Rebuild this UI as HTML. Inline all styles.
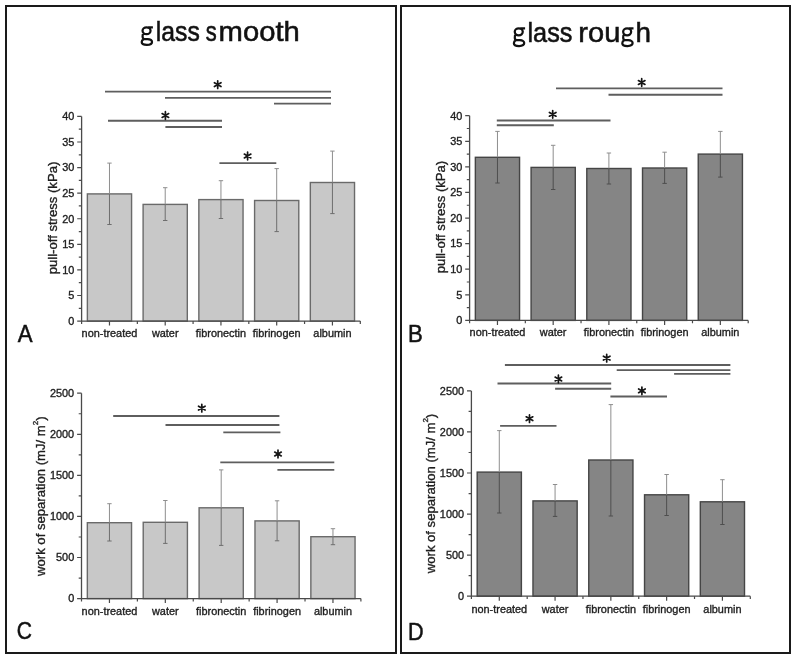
<!DOCTYPE html>
<html><head><meta charset="utf-8"><style>
html,body{margin:0;padding:0;background:#fff;}
svg{display:block;will-change:transform;}
text{font-family:"Liberation Sans", sans-serif;fill:#1e1e1e;}
.ct{stroke:#1e1e1e;stroke-width:0.35px;}
.lt{fill:#111;stroke:#111;stroke-width:0.5px;}
.tt{fill:#111;stroke:#111;stroke-width:0.55px;}
</style></head><body>
<svg width="795" height="660" viewBox="0 0 795 660">
<rect x="0" y="0" width="795" height="660" fill="#fff"/>
<rect x="6" y="6" width="390" height="647" fill="none" stroke="#1a1a1a" stroke-width="2"/>
<rect x="401" y="6" width="389" height="647" fill="none" stroke="#1a1a1a" stroke-width="2"/>
<path d="M142.55,30.75a4.00,3.45 0 1,0 8.00,0a4.00,3.45 0 1,0 -8.00,0ZM148.10,27.35H152.90M143.70,33.30C142.00,34.70 142.10,39.20 144.70,39.00H147.65C150.45,39.00 152.00,40.55 152.00,41.95C152.00,43.85 149.65,44.90 146.85,44.90C144.05,44.90 141.70,43.85 141.70,42.05C141.70,40.75 142.85,39.60 143.70,39.20" fill="none" stroke="#111" stroke-width="2.25" stroke-linecap="butt"/>
<text class="tt" x="155.8" y="40.8" font-size="28" textLength="44" lengthAdjust="spacingAndGlyphs">lass</text>
<text class="tt" x="205.8" y="40.8" font-size="28" textLength="11" lengthAdjust="spacingAndGlyphs">s</text>
<text class="tt" x="218.6" y="40.8" font-size="28" textLength="81.2" lengthAdjust="spacingAndGlyphs">mooth</text>
<path d="M514.75,31.85a4.00,3.45 0 1,0 8.00,0a4.00,3.45 0 1,0 -8.00,0ZM520.30,28.45H525.10M515.90,34.40C514.20,35.80 514.30,40.30 516.90,40.10H519.85C522.65,40.10 524.20,41.65 524.20,43.05C524.20,44.95 521.85,46.00 519.05,46.00C516.25,46.00 513.90,44.95 513.90,43.15C513.90,41.85 515.05,40.70 515.90,40.30" fill="none" stroke="#111" stroke-width="2.25" stroke-linecap="butt"/>
<text class="tt" x="527.5" y="41.9" font-size="28" textLength="45" lengthAdjust="spacingAndGlyphs">lass</text>
<text class="tt" x="578.3" y="41.9" font-size="28" textLength="42" lengthAdjust="spacingAndGlyphs">rou</text>
<path d="M623.15,31.85a4.00,3.45 0 1,0 8.00,0a4.00,3.45 0 1,0 -8.00,0ZM628.70,28.45H633.50M624.30,34.40C622.60,35.80 622.70,40.30 625.30,40.10H628.25C631.05,40.10 632.60,41.65 632.60,43.05C632.60,44.95 630.25,46.00 627.45,46.00C624.65,46.00 622.30,44.95 622.30,43.15C622.30,41.85 623.45,40.70 624.30,40.30" fill="none" stroke="#111" stroke-width="2.25" stroke-linecap="butt"/>
<text class="tt" x="635.5" y="41.9" font-size="28" textLength="15.5" lengthAdjust="spacingAndGlyphs">h</text>
<text class="lt" x="17.8" y="341.5" font-size="23.5" textLength="14.8" lengthAdjust="spacingAndGlyphs">A</text>
<text class="lt" x="408" y="342.3" font-size="23.5" textLength="14.8" lengthAdjust="spacingAndGlyphs">B</text>
<text class="lt" x="16.8" y="639.4" font-size="23.5" textLength="15.2" lengthAdjust="spacingAndGlyphs">C</text>
<text class="lt" x="408" y="640" font-size="23.5" textLength="15.6" lengthAdjust="spacingAndGlyphs">D</text>
<rect x="87.37" y="193.90" width="44.2" height="127.20" fill="#c8c8c8" stroke="#6a6a6a" stroke-width="1.4"/>
<rect x="143.11" y="204.40" width="44.2" height="116.70" fill="#c8c8c8" stroke="#6a6a6a" stroke-width="1.4"/>
<rect x="198.85" y="199.60" width="44.2" height="121.50" fill="#c8c8c8" stroke="#6a6a6a" stroke-width="1.4"/>
<rect x="254.59" y="200.50" width="44.2" height="120.60" fill="#c8c8c8" stroke="#6a6a6a" stroke-width="1.4"/>
<rect x="310.33" y="182.50" width="44.2" height="138.60" fill="#c8c8c8" stroke="#6a6a6a" stroke-width="1.4"/>
<path d="M109.47,163.10V193.90M107.27,163.10H111.67" stroke="#8e8e8e" stroke-width="1" fill="none"/>
<path d="M109.47,193.90V224.50M107.27,224.50H111.67" stroke="#6e6e6e" stroke-width="1" fill="none"/>
<path d="M165.21,187.70V204.40M163.01,187.70H167.41" stroke="#8e8e8e" stroke-width="1" fill="none"/>
<path d="M165.21,204.40V220.50M163.01,220.50H167.41" stroke="#6e6e6e" stroke-width="1" fill="none"/>
<path d="M220.95,180.70V199.60M218.75,180.70H223.15" stroke="#8e8e8e" stroke-width="1" fill="none"/>
<path d="M220.95,199.60V218.50M218.75,218.50H223.15" stroke="#6e6e6e" stroke-width="1" fill="none"/>
<path d="M276.69,168.60V200.50M274.49,168.60H278.89" stroke="#8e8e8e" stroke-width="1" fill="none"/>
<path d="M276.69,200.50V231.60M274.49,231.60H278.89" stroke="#6e6e6e" stroke-width="1" fill="none"/>
<path d="M332.43,151.10V182.50M330.23,151.10H334.63" stroke="#8e8e8e" stroke-width="1" fill="none"/>
<path d="M332.43,182.50V213.60M330.23,213.60H334.63" stroke="#6e6e6e" stroke-width="1" fill="none"/>
<path d="M81.60,116.40V321.10H360.30" stroke="#4a4a4a" stroke-width="1.3" fill="none"/>
<path d="M77.20,321.10H81.60M78.80,308.31H81.60M77.20,295.51H81.60M78.80,282.72H81.60M77.20,269.93H81.60M78.80,257.13H81.60M77.20,244.34H81.60M78.80,231.54H81.60M77.20,218.75H81.60M78.80,205.96H81.60M77.20,193.16H81.60M78.80,180.37H81.60M77.20,167.58H81.60M78.80,154.78H81.60M77.20,141.99H81.60M78.80,129.19H81.60M77.20,116.40H81.60M109.47,321.10V325.60M165.21,321.10V325.60M220.95,321.10V325.60M276.69,321.10V325.60M332.43,321.10V325.60M81.60,321.10V323.90M137.34,321.10V323.90M193.08,321.10V323.90M248.82,321.10V323.90M304.56,321.10V323.90M360.30,321.10V323.90" stroke="#4a4a4a" stroke-width="1.2" fill="none"/>
<text class="ct" x="74.30" y="324.90" text-anchor="end" font-size="10.9">0</text>
<text class="ct" x="74.30" y="299.31" text-anchor="end" font-size="10.9">5</text>
<text class="ct" x="74.30" y="273.73" text-anchor="end" font-size="10.9">10</text>
<text class="ct" x="74.30" y="248.14" text-anchor="end" font-size="10.9">15</text>
<text class="ct" x="74.30" y="222.55" text-anchor="end" font-size="10.9">20</text>
<text class="ct" x="74.30" y="196.96" text-anchor="end" font-size="10.9">25</text>
<text class="ct" x="74.30" y="171.38" text-anchor="end" font-size="10.9">30</text>
<text class="ct" x="74.30" y="145.79" text-anchor="end" font-size="10.9">35</text>
<text class="ct" x="74.30" y="120.20" text-anchor="end" font-size="10.9">40</text>
<text class="ct" x="109.47" y="336.80" text-anchor="middle" font-size="10.9">non-treated</text>
<text class="ct" x="165.21" y="336.80" text-anchor="middle" font-size="10.9">water</text>
<text class="ct" x="220.95" y="336.80" text-anchor="middle" font-size="10.9">fibronectin</text>
<text class="ct" x="276.69" y="336.80" text-anchor="middle" font-size="10.9">fibrinogen</text>
<text class="ct" x="332.43" y="336.80" text-anchor="middle" font-size="10.9">albumin</text>
<text class="ct" transform="translate(52.20,218.00) rotate(-90)" text-anchor="middle" dominant-baseline="central" font-size="13.1">pull-off stress (kPa)</text>
<path d="M105.00,91.60H331.00M165.00,97.90H331.00M274.00,103.60H331.00M108.00,120.70H222.00M165.40,127.00H222.00M219.40,163.10H276.30" stroke="#5e5e5e" stroke-width="1.85" fill="none"/>
<path d="M217.70,80.80L217.70,88.40M214.41,82.70L220.99,86.50M214.41,86.50L220.99,82.70" stroke="#151515" stroke-width="1.7" stroke-linecap="round" fill="none"/>
<path d="M165.40,111.70L165.40,119.30M162.11,113.60L168.69,117.40M162.11,117.40L168.69,113.60" stroke="#151515" stroke-width="1.7" stroke-linecap="round" fill="none"/>
<path d="M247.60,152.20L247.60,159.80M244.31,154.10L250.89,157.90M244.31,157.90L250.89,154.10" stroke="#151515" stroke-width="1.7" stroke-linecap="round" fill="none"/>
<rect x="475.36" y="157.30" width="44.2" height="163.10" fill="#858585" stroke="#454545" stroke-width="1.4"/>
<rect x="531.08" y="167.40" width="44.2" height="153.00" fill="#858585" stroke="#454545" stroke-width="1.4"/>
<rect x="586.80" y="168.50" width="44.2" height="151.90" fill="#858585" stroke="#454545" stroke-width="1.4"/>
<rect x="642.52" y="168.00" width="44.2" height="152.40" fill="#858585" stroke="#454545" stroke-width="1.4"/>
<rect x="698.24" y="154.10" width="44.2" height="166.30" fill="#858585" stroke="#454545" stroke-width="1.4"/>
<path d="M497.46,131.40V157.30M495.26,131.40H499.66" stroke="#8e8e8e" stroke-width="1" fill="none"/>
<path d="M497.46,157.30V183.00M495.26,183.00H499.66" stroke="#4e4e4e" stroke-width="1" fill="none"/>
<path d="M553.18,145.30V167.40M550.98,145.30H555.38" stroke="#8e8e8e" stroke-width="1" fill="none"/>
<path d="M553.18,167.40V189.50M550.98,189.50H555.38" stroke="#4e4e4e" stroke-width="1" fill="none"/>
<path d="M608.90,153.00V168.50M606.70,153.00H611.10" stroke="#8e8e8e" stroke-width="1" fill="none"/>
<path d="M608.90,168.50V184.00M606.70,184.00H611.10" stroke="#4e4e4e" stroke-width="1" fill="none"/>
<path d="M664.62,152.20V168.00M662.42,152.20H666.82" stroke="#8e8e8e" stroke-width="1" fill="none"/>
<path d="M664.62,168.00V183.40M662.42,183.40H666.82" stroke="#4e4e4e" stroke-width="1" fill="none"/>
<path d="M720.34,131.40V154.10M718.14,131.40H722.54" stroke="#8e8e8e" stroke-width="1" fill="none"/>
<path d="M720.34,154.10V177.10M718.14,177.10H722.54" stroke="#4e4e4e" stroke-width="1" fill="none"/>
<path d="M469.60,115.70V320.40H748.20" stroke="#4a4a4a" stroke-width="1.3" fill="none"/>
<path d="M465.20,320.40H469.60M466.80,307.61H469.60M465.20,294.81H469.60M466.80,282.02H469.60M465.20,269.22H469.60M466.80,256.43H469.60M465.20,243.64H469.60M466.80,230.84H469.60M465.20,218.05H469.60M466.80,205.26H469.60M465.20,192.46H469.60M466.80,179.67H469.60M465.20,166.88H469.60M466.80,154.08H469.60M465.20,141.29H469.60M466.80,128.49H469.60M465.20,115.70H469.60M497.46,320.40V324.90M553.18,320.40V324.90M608.90,320.40V324.90M664.62,320.40V324.90M720.34,320.40V324.90M469.60,320.40V323.20M525.32,320.40V323.20M581.04,320.40V323.20M636.76,320.40V323.20M692.48,320.40V323.20M748.20,320.40V323.20" stroke="#4a4a4a" stroke-width="1.2" fill="none"/>
<text class="ct" x="462.30" y="324.20" text-anchor="end" font-size="10.9">0</text>
<text class="ct" x="462.30" y="298.61" text-anchor="end" font-size="10.9">5</text>
<text class="ct" x="462.30" y="273.02" text-anchor="end" font-size="10.9">10</text>
<text class="ct" x="462.30" y="247.44" text-anchor="end" font-size="10.9">15</text>
<text class="ct" x="462.30" y="221.85" text-anchor="end" font-size="10.9">20</text>
<text class="ct" x="462.30" y="196.26" text-anchor="end" font-size="10.9">25</text>
<text class="ct" x="462.30" y="170.68" text-anchor="end" font-size="10.9">30</text>
<text class="ct" x="462.30" y="145.09" text-anchor="end" font-size="10.9">35</text>
<text class="ct" x="462.30" y="119.50" text-anchor="end" font-size="10.9">40</text>
<text class="ct" x="497.46" y="336.00" text-anchor="middle" font-size="10.9">non-treated</text>
<text class="ct" x="553.18" y="336.00" text-anchor="middle" font-size="10.9">water</text>
<text class="ct" x="608.90" y="336.00" text-anchor="middle" font-size="10.9">fibronectin</text>
<text class="ct" x="664.62" y="336.00" text-anchor="middle" font-size="10.9">fibrinogen</text>
<text class="ct" x="720.34" y="336.00" text-anchor="middle" font-size="10.9">albumin</text>
<text class="ct" transform="translate(440.90,217.10) rotate(-90)" text-anchor="middle" dominant-baseline="central" font-size="13.1">pull-off stress (kPa)</text>
<path d="M556.00,88.40H722.50M608.50,94.70H722.50M496.80,120.50H610.50M496.80,125.20H553.80" stroke="#5e5e5e" stroke-width="1.85" fill="none"/>
<path d="M641.70,78.70L641.70,86.30M638.41,80.60L644.99,84.40M638.41,84.40L644.99,80.60" stroke="#151515" stroke-width="1.7" stroke-linecap="round" fill="none"/>
<path d="M552.70,110.50L552.70,118.10M549.41,112.40L555.99,116.20M549.41,116.20L555.99,112.40" stroke="#151515" stroke-width="1.7" stroke-linecap="round" fill="none"/>
<rect x="87.34" y="522.70" width="44.2" height="75.90" fill="#c8c8c8" stroke="#6a6a6a" stroke-width="1.4"/>
<rect x="143.22" y="522.30" width="44.2" height="76.30" fill="#c8c8c8" stroke="#6a6a6a" stroke-width="1.4"/>
<rect x="199.10" y="507.80" width="44.2" height="90.80" fill="#c8c8c8" stroke="#6a6a6a" stroke-width="1.4"/>
<rect x="254.98" y="520.90" width="44.2" height="77.70" fill="#c8c8c8" stroke="#6a6a6a" stroke-width="1.4"/>
<rect x="310.86" y="536.70" width="44.2" height="61.90" fill="#c8c8c8" stroke="#6a6a6a" stroke-width="1.4"/>
<path d="M109.44,503.70V522.70M107.24,503.70H111.64" stroke="#8e8e8e" stroke-width="1" fill="none"/>
<path d="M109.44,522.70V541.00M107.24,541.00H111.64" stroke="#6e6e6e" stroke-width="1" fill="none"/>
<path d="M165.32,500.50V522.30M163.12,500.50H167.52" stroke="#8e8e8e" stroke-width="1" fill="none"/>
<path d="M165.32,522.30V543.40M163.12,543.40H167.52" stroke="#6e6e6e" stroke-width="1" fill="none"/>
<path d="M221.20,469.90V507.80M219.00,469.90H223.40" stroke="#8e8e8e" stroke-width="1" fill="none"/>
<path d="M221.20,507.80V545.40M219.00,545.40H223.40" stroke="#6e6e6e" stroke-width="1" fill="none"/>
<path d="M277.08,500.80V520.90M274.88,500.80H279.28" stroke="#8e8e8e" stroke-width="1" fill="none"/>
<path d="M277.08,520.90V540.80M274.88,540.80H279.28" stroke="#6e6e6e" stroke-width="1" fill="none"/>
<path d="M332.96,528.70V536.70M330.76,528.70H335.16" stroke="#8e8e8e" stroke-width="1" fill="none"/>
<path d="M332.96,536.70V544.70M330.76,544.70H335.16" stroke="#6e6e6e" stroke-width="1" fill="none"/>
<path d="M81.50,393.20V598.60H360.90" stroke="#4a4a4a" stroke-width="1.3" fill="none"/>
<path d="M77.10,598.60H81.50M78.70,578.06H81.50M77.10,557.52H81.50M78.70,536.98H81.50M77.10,516.44H81.50M78.70,495.90H81.50M77.10,475.36H81.50M78.70,454.82H81.50M77.10,434.28H81.50M78.70,413.74H81.50M77.10,393.20H81.50M109.44,598.60V603.10M165.32,598.60V603.10M221.20,598.60V603.10M277.08,598.60V603.10M332.96,598.60V603.10M81.50,598.60V601.40M137.38,598.60V601.40M193.26,598.60V601.40M249.14,598.60V601.40M305.02,598.60V601.40M360.90,598.60V601.40" stroke="#4a4a4a" stroke-width="1.2" fill="none"/>
<text class="ct" x="74.20" y="602.40" text-anchor="end" font-size="10.9">0</text>
<text class="ct" x="74.20" y="561.32" text-anchor="end" font-size="10.9">500</text>
<text class="ct" x="74.20" y="520.24" text-anchor="end" font-size="10.9">1000</text>
<text class="ct" x="74.20" y="479.16" text-anchor="end" font-size="10.9">1500</text>
<text class="ct" x="74.20" y="438.08" text-anchor="end" font-size="10.9">2000</text>
<text class="ct" x="74.20" y="397.00" text-anchor="end" font-size="10.9">2500</text>
<text class="ct" x="109.44" y="614.50" text-anchor="middle" font-size="10.9">non-treated</text>
<text class="ct" x="165.32" y="614.50" text-anchor="middle" font-size="10.9">water</text>
<text class="ct" x="221.20" y="614.50" text-anchor="middle" font-size="10.9">fibronectin</text>
<text class="ct" x="277.08" y="614.50" text-anchor="middle" font-size="10.9">fibrinogen</text>
<text class="ct" x="332.96" y="614.50" text-anchor="middle" font-size="10.9">albumin</text>
<text class="ct" transform="translate(40.00,496.20) rotate(-90)" text-anchor="middle" dominant-baseline="central" font-size="13.1">work of separation (mJ/ m<tspan dy="-5" font-size="8">2</tspan><tspan dy="5">)</tspan></text>
<path d="M113.20,416.00H279.40M165.50,425.00H279.40M223.30,432.30H280.40M220.30,462.40H334.30M277.40,469.90H334.30" stroke="#5e5e5e" stroke-width="1.85" fill="none"/>
<path d="M201.80,404.30L201.80,411.90M198.51,406.20L205.09,410.00M198.51,410.00L205.09,406.20" stroke="#151515" stroke-width="1.7" stroke-linecap="round" fill="none"/>
<path d="M278.00,450.20L278.00,457.80M274.71,452.10L281.29,455.90M274.71,455.90L281.29,452.10" stroke="#151515" stroke-width="1.7" stroke-linecap="round" fill="none"/>
<rect x="477.19" y="472.10" width="44.2" height="124.10" fill="#858585" stroke="#454545" stroke-width="1.4"/>
<rect x="532.97" y="500.90" width="44.2" height="95.30" fill="#858585" stroke="#454545" stroke-width="1.4"/>
<rect x="588.75" y="460.00" width="44.2" height="136.20" fill="#858585" stroke="#454545" stroke-width="1.4"/>
<rect x="644.53" y="494.80" width="44.2" height="101.40" fill="#858585" stroke="#454545" stroke-width="1.4"/>
<rect x="700.31" y="501.80" width="44.2" height="94.40" fill="#858585" stroke="#454545" stroke-width="1.4"/>
<path d="M499.29,430.60V472.10M497.09,430.60H501.49" stroke="#8e8e8e" stroke-width="1" fill="none"/>
<path d="M499.29,472.10V513.00M497.09,513.00H501.49" stroke="#4e4e4e" stroke-width="1" fill="none"/>
<path d="M555.07,484.50V500.90M552.87,484.50H557.27" stroke="#8e8e8e" stroke-width="1" fill="none"/>
<path d="M555.07,500.90V516.40M552.87,516.40H557.27" stroke="#4e4e4e" stroke-width="1" fill="none"/>
<path d="M610.85,404.60V460.00M608.65,404.60H613.05" stroke="#8e8e8e" stroke-width="1" fill="none"/>
<path d="M610.85,460.00V516.00M608.65,516.00H613.05" stroke="#4e4e4e" stroke-width="1" fill="none"/>
<path d="M666.63,474.50V494.80M664.43,474.50H668.83" stroke="#8e8e8e" stroke-width="1" fill="none"/>
<path d="M666.63,494.80V515.50M664.43,515.50H668.83" stroke="#4e4e4e" stroke-width="1" fill="none"/>
<path d="M722.41,479.70V501.80M720.21,479.70H724.61" stroke="#8e8e8e" stroke-width="1" fill="none"/>
<path d="M722.41,501.80V524.50M720.21,524.50H724.61" stroke="#4e4e4e" stroke-width="1" fill="none"/>
<path d="M471.40,390.90V596.20H750.30" stroke="#4a4a4a" stroke-width="1.3" fill="none"/>
<path d="M467.00,596.20H471.40M468.60,575.67H471.40M467.00,555.14H471.40M468.60,534.61H471.40M467.00,514.08H471.40M468.60,493.55H471.40M467.00,473.02H471.40M468.60,452.49H471.40M467.00,431.96H471.40M468.60,411.43H471.40M467.00,390.90H471.40M499.29,596.20V600.70M555.07,596.20V600.70M610.85,596.20V600.70M666.63,596.20V600.70M722.41,596.20V600.70M471.40,596.20V599.00M527.18,596.20V599.00M582.96,596.20V599.00M638.74,596.20V599.00M694.52,596.20V599.00M750.30,596.20V599.00" stroke="#4a4a4a" stroke-width="1.2" fill="none"/>
<text class="ct" x="464.10" y="600.00" text-anchor="end" font-size="10.9">0</text>
<text class="ct" x="464.10" y="558.94" text-anchor="end" font-size="10.9">500</text>
<text class="ct" x="464.10" y="517.88" text-anchor="end" font-size="10.9">1000</text>
<text class="ct" x="464.10" y="476.82" text-anchor="end" font-size="10.9">1500</text>
<text class="ct" x="464.10" y="435.76" text-anchor="end" font-size="10.9">2000</text>
<text class="ct" x="464.10" y="394.70" text-anchor="end" font-size="10.9">2500</text>
<text class="ct" x="499.29" y="612.70" text-anchor="middle" font-size="10.9">non-treated</text>
<text class="ct" x="555.07" y="612.70" text-anchor="middle" font-size="10.9">water</text>
<text class="ct" x="610.85" y="612.70" text-anchor="middle" font-size="10.9">fibronectin</text>
<text class="ct" x="666.63" y="612.70" text-anchor="middle" font-size="10.9">fibrinogen</text>
<text class="ct" x="722.41" y="612.70" text-anchor="middle" font-size="10.9">albumin</text>
<text class="ct" transform="translate(430.20,493.50) rotate(-90)" text-anchor="middle" dominant-baseline="central" font-size="13.1">work of separation (mJ/ m<tspan dy="-5" font-size="8">2</tspan><tspan dy="5">)</tspan></text>
<path d="M504.90,365.00H730.40M616.70,370.10H730.40M674.10,373.80H730.40M497.50,383.50H611.20M555.10,388.70H611.20M610.40,396.50H667.00M500.10,425.80H556.50" stroke="#5e5e5e" stroke-width="1.85" fill="none"/>
<path d="M606.70,354.30L606.70,361.90M603.41,356.20L609.99,360.00M603.41,360.00L609.99,356.20" stroke="#151515" stroke-width="1.7" stroke-linecap="round" fill="none"/>
<path d="M558.40,375.20L558.40,382.80M555.11,377.10L561.69,380.90M555.11,380.90L561.69,377.10" stroke="#151515" stroke-width="1.7" stroke-linecap="round" fill="none"/>
<path d="M641.90,387.00L641.90,394.60M638.61,388.90L645.19,392.70M638.61,392.70L645.19,388.90" stroke="#151515" stroke-width="1.7" stroke-linecap="round" fill="none"/>
<path d="M529.50,414.90L529.50,422.50M526.21,416.80L532.79,420.60M526.21,420.60L532.79,416.80" stroke="#151515" stroke-width="1.7" stroke-linecap="round" fill="none"/>
</svg>
</body></html>
